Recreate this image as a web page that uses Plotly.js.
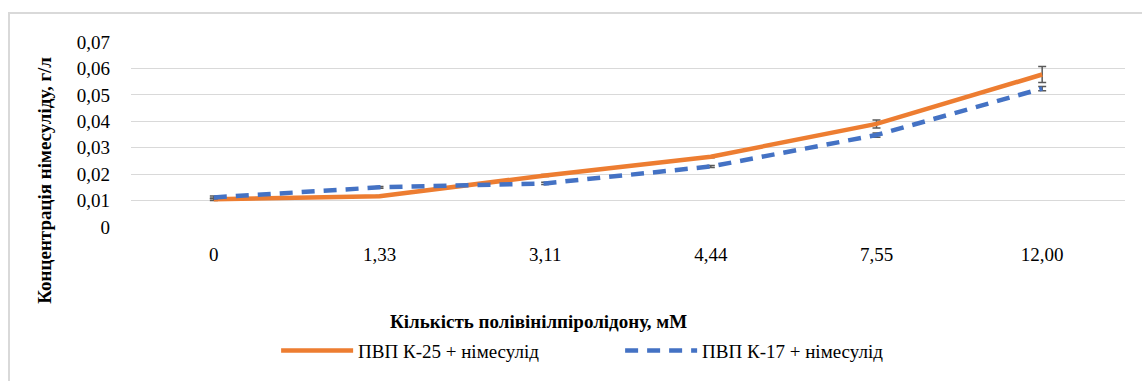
<!DOCTYPE html>
<html lang="uk">
<head>
<meta charset="utf-8">
<script src="https://cdn.plot.ly/plotly-3.0.1.min.js"></script>
<style>
html,body{margin:0;padding:0;background:#fff;}
#wrap{position:relative;width:1142px;height:381px;overflow:hidden;}
#frame{position:absolute;left:8px;top:12px;width:1200px;height:400px;border:2px solid #d9d9d9;box-sizing:border-box;pointer-events:none;}
#chart{position:absolute;left:0;top:0;width:1142px;height:381px;}
</style>
</head>
<body>
<div id="wrap">
<div id="chart"></div>
<div id="frame"></div>
</div>
<script>
var categories = ['0', '1,33', '3,11', '4,44', '7,55', '12,00'];
var k25Values = [0.0105, 0.0116, 0.0195, 0.0266, 0.0390, 0.0577];
var k25Errors = [0.0005, 0.0003, 0.0004, 0.0004, 0.0015, 0.0030];
var k17Values = [0.0112, 0.0150, 0.0165, 0.0229, 0.0348, 0.0524];
var k17Errors = [0.0005, 0.0003, 0.0004, 0.0004, 0.0008, 0.0008];
var yTickVals = [0, 0.01, 0.02, 0.03, 0.04, 0.05, 0.06, 0.07];
var yTickText = ['0', '0,01', '0,02', '0,03', '0,04', '0,05', '0,06', '0,07'];
var seriesNames = ['ПВП К-25 + німесулід', 'ПВП К-17 + німесулід'];
var xTitle = 'Кількість полівінілпіролідону, мМ';
var yTitle = 'Концентрація німесуліду, г/л';

var FAM = 'Liberation Serif, Times New Roman, serif';
function f(size) { return {family: FAM, size: size, color: 'black'}; }
var errStyle = {type: 'data', visible: true, color: '#595959', thickness: 1.5, width: 4};

var traces = [
  {
    x: categories, y: k25Values, name: seriesNames[0], type: 'scatter', mode: 'lines',
    line: {color: '#ED7D31', width: 4.5},
    error_y: Object.assign({array: k25Errors}, errStyle)
  },
  {
    x: categories, y: k17Values, name: seriesNames[1], type: 'scatter', mode: 'lines',
    line: {color: '#4472C4', width: 4.5, dash: '13px,9px'},
    error_y: Object.assign({array: k17Errors}, errStyle)
  }
];

var layout = {
  width: 1142, height: 381,
  margin: {l: 131, r: 17, t: 42, b: 152},
  paper_bgcolor: 'rgba(0,0,0,0)', plot_bgcolor: 'rgba(0,0,0,0)',
  font: f(19),
  showlegend: true,
  xaxis: {
    type: 'category', range: [-0.5, 5.5], showgrid: false, zeroline: false, showline: false,
    ticks: '', ticklabelstandoff: 14, tickfont: f(19)
  },
  yaxis: {
    range: [0, 0.07], tickvals: yTickVals, ticktext: yTickText,
    showgrid: true, gridcolor: '#d9d9d9', gridwidth: 1,
    zeroline: false, showline: false, ticks: '', ticklabelstandoff: 20, tickfont: f(19)
  },
  annotations: [
    {
      text: '<b>' + xTitle + '</b>',
      xref: 'paper', yref: 'paper', x: 0.41, y: -0.513, xanchor: 'center', yanchor: 'middle',
      showarrow: false, font: f(19)
    },
    {
      text: '<b>' + yTitle + '</b>', textangle: -90,
      xref: 'paper', yref: 'paper', x: -0.0865, y: 0.25, xanchor: 'center', yanchor: 'middle',
      showarrow: false, font: f(19)
    }
  ],
  legend: {
    orientation: 'h', xref: 'paper', yref: 'paper', x: 0.146, y: -0.668,
    xanchor: 'left', yanchor: 'middle', font: f(19),
    itemwidth: 72, entrywidth: 257, entrywidthmode: 'pixels',
    tracegroupgap: 0, bgcolor: 'rgba(0,0,0,0)'
  }
};

Plotly.newPlot('chart', traces, layout, {displayModeBar: false, staticPlot: true});
</script>
</body>
</html>
